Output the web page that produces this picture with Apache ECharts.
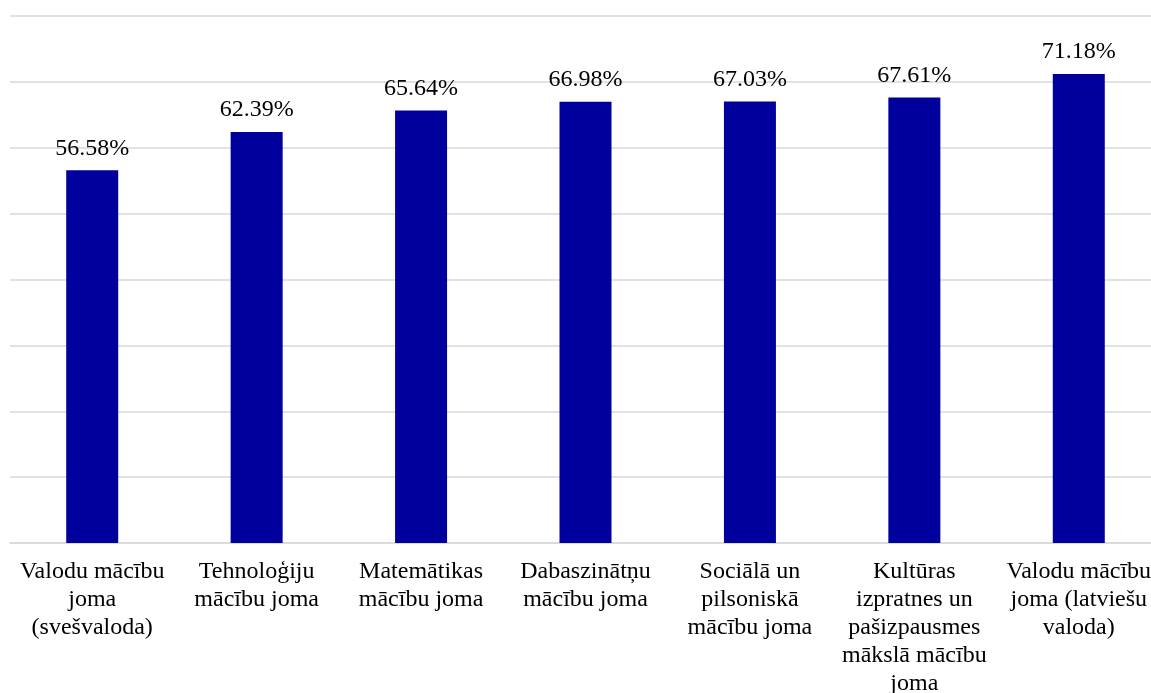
<!DOCTYPE html>
<html>
<head>
<meta charset="utf-8">
<script src="https://cdn.jsdelivr.net/npm/echarts@6/dist/echarts.min.js"></script>
<style>
html,body{margin:0;padding:0;background:#fff;}
#chart{width:1151px;height:693px;}
</style>
</head>
<body>
<div id="chart"></div>
<script>
const categories = [
  "Valodu mācību\njoma\n(svešvaloda)",
  "Tehnoloģiju\nmācību joma",
  "Matemātikas\nmācību joma",
  "Dabaszinātņu\nmācību joma",
  "Sociālā un\npilsoniskā\nmācību joma",
  "Kultūras\nizpratnes un\npašizpausmes\nmākslā mācību\njoma",
  "Valodu mācību\njoma (latviešu\nvaloda)"
];
const values = [56.58, 62.39, 65.64, 66.98, 67.03, 67.61, 71.18];
const yMin = 0, yMax = 80, yInterval = 10;

const chart = echarts.init(document.getElementById('chart'), null, {renderer: 'canvas'});
const font = '"Liberation Serif", "Times New Roman", serif';
chart.setOption({
  animation: false,
  grid: {left: 10, top: 16, right: -10, bottom: 150, containLabel: false, outerBoundsMode: 'none'},
  xAxis: {
    type: 'category',
    data: categories,
    axisLine: {show: true, lineStyle: {color: '#D9D9D9', width: 1.5}},
    axisTick: {show: false},
    axisLabel: {
      interval: 0,
      color: '#000',
      fontFamily: font,
      fontSize: 24,
      lineHeight: 28,
      margin: 15
    }
  },
  yAxis: {
    type: 'value',
    min: yMin, max: yMax, interval: yInterval,
    axisLabel: {show: false},
    axisLine: {show: false},
    axisTick: {show: false},
    splitLine: {lineStyle: {color: '#D9D9D9', width: 1.5}}
  },
  series: [{
    type: 'bar',
    data: values,
    barWidth: 52,
    itemStyle: {color: '#00009C'},
    label: {
      show: true,
      position: 'top',
      distance: 10,
      color: '#000',
      fontFamily: font,
      fontSize: 24,
      formatter: p => p.value.toFixed(2) + '%'
    }
  }]
});
</script>
</body>
</html>
